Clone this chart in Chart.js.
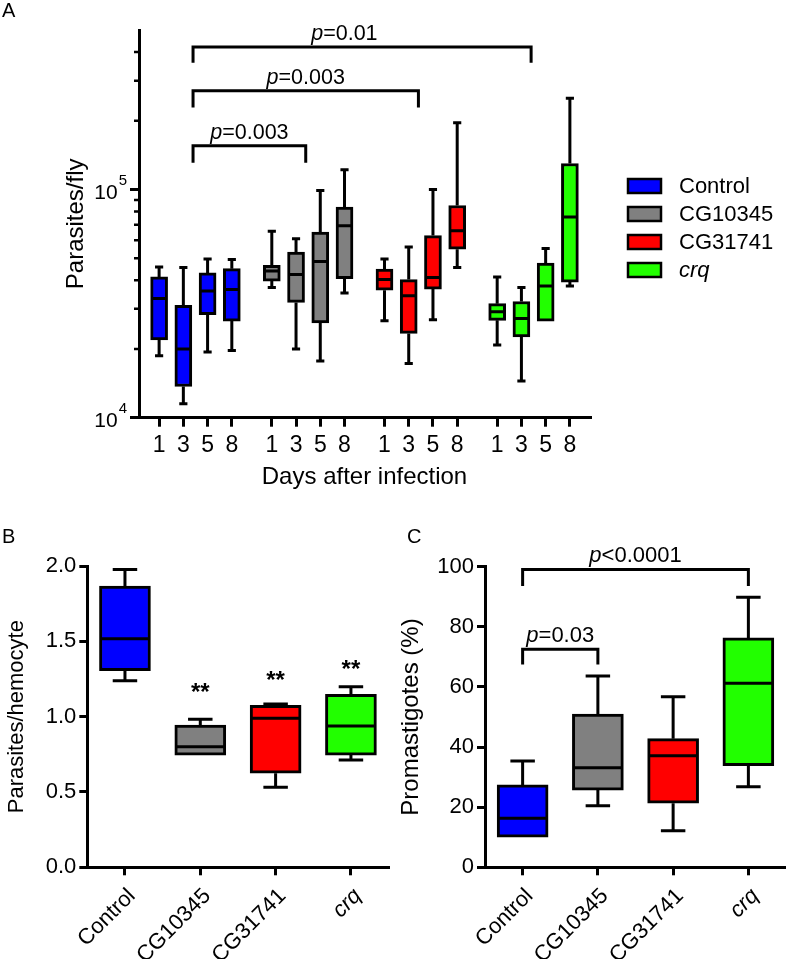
<!DOCTYPE html>
<html>
<head>
<meta charset="utf-8">
<script src="https://cdn.jsdelivr.net/npm/chart.js@4.4.0/dist/chart.umd.min.js"></script>
<style>
  html, body { margin: 0; padding: 0; background: #fff; }
  #wrap { position: relative; width: 786px; height: 959px; overflow: hidden; }
  canvas { position: absolute; }
</style>
</head>
<body>
<div id="wrap">
  <canvas id="chartA" width="786" height="500" style="left:0;top:0;width:786px;height:500px"></canvas>
  <canvas id="chartB" width="393" height="459" style="left:0;top:500px;width:393px;height:459px"></canvas>
  <canvas id="chartC" width="393" height="459" style="left:393px;top:500px;width:393px;height:459px"></canvas>
</div>
<script>
const FONT = "'Liberation Sans', Arial, Helvetica, sans-serif";
Chart.defaults.font.family = FONT;
Chart.defaults.color = "#000";

// --- data ---
const groups = ["Control", "CG10345", "CG31741", "crq"];
const italicGroups = ["crq"];
const days = [1, 3, 5, 8];
const groupColors = ["#0000ff", "#808080", "#ff0000", "#22ff00"];

// A: parasites per fly, each box is [min, q1, median, q3, max], days 1, 3, 5, 8
const flyControl = [[18700, 21900, 33300, 41400, 45700], [11500, 13700, 20000, 31100, 45500], [19400, 28300, 35900, 43100, 49600], [19700, 26500, 36500, 45000, 49300]];
const flyCG10345 = [[37200, 39700, 43900, 46500, 65700], [20000, 32000, 42400, 53200, 60900], [17700, 26000, 48400, 65100, 99000], [35200, 40700, 69400, 83700, 122000]];
const flyCG31741 = [[26600, 36200, 40300, 44800, 49600], [17300, 23400, 34200, 40300, 56000], [26900, 36600, 41100, 62800, 100000], [45500, 54700, 65900, 85100, 196000]];
const flyCrq = [[20800, 26700, 29100, 31600, 41400], [14500, 22600, 27200, 32300, 37200], [26300, 26500, 37800, 47600, 55200], [37800, 39300, 75700, 130000, 251000]];
const flySeries = [flyControl, flyCG10345, flyCG31741, flyCrq];
const flyTicks = [1e4, 1e5];
const flyMinorTicks = [2e4, 3e4, 4e4, 5e4, 6e4, 7e4, 8e4, 9e4, 2e5, 3e5, 4e5];
// brackets between [group, day index] pairs
const flyBrackets = [
  { from: [0, 1], to: [1, 1], top: 155600, foot: 130900, text: "=0.003", shift: 0 },
  { from: [0, 1], to: [2, 1], top: 271000, foot: 229000, text: "=0.003", shift: 0 },
  { from: [0, 1], to: [3, 1], top: 421700, foot: 359000, text: "=0.01", shift: -0.73 }
];

// B: parasites per hemocyte
const hemocyte = [[1.238, 1.305, 1.517, 1.867, 1.977], [0.745, 0.745, 0.800, 0.944, 0.982], [0.531, 0.624, 0.989, 1.075, 1.084], [0.712, 0.745, 0.938, 1.148, 1.198]];
const hemocyteStars = ["", "**", "**", "**"];
const hemocyteStarLevel = [null, 1.11, 1.19, 1.26];

// C: promastigotes (%)
const promastigotes = [[10.0, 10.0, 16.3, 27.4, 35.4], [20.5, 25.7, 33.1, 51.0, 63.6], [12.2, 21.3, 37.1, 42.8, 56.7], [26.8, 33.8, 61.2, 76.3, 89.8]];
const promaBrackets = [
  { from: 0, to: 1, top: 72.5, foot: 67.5, text: "=0.03" },
  { from: 0, to: 3, top: 99.1, foot: 93.6, text: "<0.0001" }
];

const GROUP_STEP = 4.65;   // spacing of day groups on the A x axis
const BRACKET_SHIFT = 0.4;
const dayX = (g, d) => g * GROUP_STEP + d;

// --- plugins ---
const boxPlot = {
  id: "boxPlot",
  afterDatasetsDraw(chart) {
    const ctx = chart.ctx;
    const y = chart.scales.y;
    chart.data.datasets.forEach((ds, di) => {
      const meta = chart.getDatasetMeta(di);
      meta.data.forEach((bar, i) => {
        const s = ds.stats[i];
        const half = bar.width / 2;
        const cap = bar.width * 0.24;
        const pMin = y.getPixelForValue(s[0]), pQ1 = y.getPixelForValue(s[1]);
        const pMed = y.getPixelForValue(s[2]), pQ3 = y.getPixelForValue(s[3]);
        const pMax = y.getPixelForValue(s[4]);
        ctx.save();
        ctx.strokeStyle = "#000";
        ctx.lineWidth = 3;
        ctx.beginPath();
        if (pMax < pQ3 - 1) {
          ctx.moveTo(bar.x, pQ3); ctx.lineTo(bar.x, pMax);
          ctx.moveTo(bar.x - cap, pMax); ctx.lineTo(bar.x + cap, pMax);
        }
        if (pMin > pQ1 + 1) {
          ctx.moveTo(bar.x, pQ1); ctx.lineTo(bar.x, pMin);
          ctx.moveTo(bar.x - cap, pMin); ctx.lineTo(bar.x + cap, pMin);
        }
        ctx.moveTo(bar.x - half + 1, pMed); ctx.lineTo(bar.x + half - 1, pMed);
        ctx.stroke();
        ctx.restore();
      });
    });
  }
};

function drawBracket(ctx, x1, x2, yTop, yFoot, text, size, labelX) {
  ctx.save();
  ctx.strokeStyle = "#000";
  ctx.lineWidth = 3;
  ctx.beginPath();
  ctx.moveTo(x1, yFoot); ctx.lineTo(x1, yTop); ctx.lineTo(x2, yTop); ctx.lineTo(x2, yFoot);
  ctx.stroke();
  ctx.fillStyle = "#000";
  ctx.textBaseline = "alphabetic";
  ctx.font = "italic " + size + "px " + FONT;
  const wp = ctx.measureText("p").width;
  ctx.font = size + "px " + FONT;
  const wr = ctx.measureText(text).width;
  const cx = labelX !== undefined ? labelX : (x1 + x2) / 2;
  const start = cx - (wp + wr) / 2;
  const base = yTop - 7;
  ctx.font = "italic " + size + "px " + FONT;
  ctx.fillText("p", start, base);
  ctx.font = size + "px " + FONT;
  ctx.fillText(text, start + wp, base);
  ctx.restore();
}

const panelLetter = {
  id: "panelLetter",
  afterDraw(chart, args, opts) {
    const ctx = chart.ctx;
    ctx.save();
    ctx.fillStyle = "#000";
    ctx.font = "20px " + FONT;
    ctx.textBaseline = "alphabetic";
    ctx.fillText(opts.text, opts.x, opts.y);
    ctx.restore();
  }
};

const flyExtras = {
  id: "flyExtras",
  afterDraw(chart) {
    const ctx = chart.ctx;
    const x = chart.scales.x, y = chart.scales.y;
    const axisX = chart.chartArea.left;
    ctx.save();
    // minor ticks on the log axis
    ctx.strokeStyle = "#000";
    ctx.lineWidth = 2.5;
    ctx.beginPath();
    flyMinorTicks.forEach(v => {
      const py = y.getPixelForValue(v);
      ctx.moveTo(axisX - 5, py); ctx.lineTo(axisX, py);
    });
    ctx.stroke();
    // 10^n labels
    ctx.fillStyle = "#000";
    ctx.textBaseline = "alphabetic";
    flyTicks.forEach(v => {
      const py = y.getPixelForValue(v);
      const exp = String(Math.round(Math.log10(v)));
      ctx.font = "15px " + FONT;
      const we = ctx.measureText(exp).width;
      const right = axisX - 12;
      ctx.fillText(exp, right - we, py - 5);
      ctx.font = "21px " + FONT;
      const wb = ctx.measureText("10").width;
      ctx.fillText("10", right - we - wb - 1, py + 9);
    });
    // brackets
    flyBrackets.forEach(b => {
      const x1 = x.getPixelForValue(dayX(b.from[0], b.from[1]) + BRACKET_SHIFT);
      const x2 = x.getPixelForValue(dayX(b.to[0], b.to[1]) + BRACKET_SHIFT);
      const mid = x.getPixelForValue((dayX(b.from[0], b.from[1]) + dayX(b.to[0], b.to[1])) / 2 + BRACKET_SHIFT + b.shift);
      drawBracket(ctx, x1, x2, y.getPixelForValue(b.top), y.getPixelForValue(b.foot), b.text, 21.5, mid);
    });
    // legend
    groups.forEach((g, i) => {
      const cy = 186 + i * 28;
      ctx.fillStyle = groupColors[i];
      ctx.fillRect(628, cy - 7, 33, 14);
      ctx.strokeStyle = "#000";
      ctx.lineWidth = 2.5;
      ctx.strokeRect(628, cy - 7, 33, 14);
      ctx.fillStyle = "#000";
      ctx.textBaseline = "middle";
      ctx.font = (italicGroups.includes(g) ? "italic " : "") + "22px " + FONT;
      ctx.fillText(g, 679, cy + 1);
    });
    ctx.restore();
  }
};

const hemocyteStarsPlugin = {
  id: "hemocyteStarsPlugin",
  afterDraw(chart) {
    const ctx = chart.ctx;
    const x = chart.scales.x, y = chart.scales.y;
    ctx.save();
    ctx.fillStyle = "#000";
    ctx.font = "bold 24px " + FONT;
    ctx.textAlign = "center";
    ctx.textBaseline = "alphabetic";
    hemocyteStars.forEach((s, i) => {
      if (!s) return;
      ctx.fillText(s, x.getPixelForValue(i), y.getPixelForValue(hemocyteStarLevel[i]));
    });
    ctx.restore();
  }
};

const promaBracketsPlugin = {
  id: "promaBracketsPlugin",
  afterDraw(chart) {
    const ctx = chart.ctx;
    const x = chart.scales.x, y = chart.scales.y;
    promaBrackets.forEach(b => {
      drawBracket(ctx, x.getPixelForValue(b.from), x.getPixelForValue(b.to),
        y.getPixelForValue(b.top), y.getPixelForValue(b.foot), b.text, 22);
    });
  }
};

// --- shared axis styling ---
const axisBorder = { color: "#000", width: 3 };
const tickGrid = { drawOnChartArea: false, offset: false, color: "#000", lineWidth: 3, tickLength: 8 };

// --- panel A ---
new Chart(document.getElementById("chartA"), {
  type: "bar",
  data: {
    datasets: flySeries.map((series, g) => ({
      label: groups[g],
      data: series.map((s, d) => ({ x: dayX(g, d), y: [s[1], s[3]] })),
      stats: series,
      backgroundColor: groupColors[g],
      borderColor: "#000",
      borderWidth: 3,
      borderSkipped: false,
      barThickness: 17,
      grouped: false
    }))
  },
  options: {
    responsive: false,
    animation: false,
    layout: { padding: { left: 0, top: 30, right: 196, bottom: 0 } },
    plugins: {
      legend: { display: false },
      tooltip: { enabled: false },
      panelLetter: { text: "A", x: 2, y: 17 }
    },
    scales: {
      x: {
        type: "linear",
        offset: false,
        min: -0.83,
        max: 17.78,
        afterBuildTicks: s => {
          s.ticks = flySeries.flatMap((_, g) => days.map((d, i) => ({ value: dayX(g, i) })));
        },
        afterFit: s => { s.height = 82.3; s.paddingLeft = 0; s.paddingRight = 0; },
        border: axisBorder,
        grid: Object.assign({}, tickGrid, { tickLength: 9 }),
        ticks: {
          autoSkip: false, maxRotation: 0, padding: 5,
          font: { size: 23 },
          callback: (v, i) => days[i % days.length]
        },
        title: { display: true, text: "Days after infection", font: { size: 24 }, padding: { bottom: 8 } }
      },
      y: {
        type: "logarithmic",
        min: 1e4,
        max: 5e5,
        afterBuildTicks: s => { s.ticks = flyTicks.map(v => ({ value: v, major: true })); },
        afterFit: s => { s.width = 139; },
        border: axisBorder,
        grid: Object.assign({}, tickGrid, { tickLength: 9 }),
        ticks: { display: false },
        title: { display: true, text: "Parasites/fly", font: { size: 24 }, padding: { top: 62.3 } }
      }
    }
  },
  plugins: [boxPlot, flyExtras, panelLetter]
});

// --- panels B and C ---
function groupBoxChart(id, stats, yOpts, titleText, titleSize, titlePad, leftWidth, top, letter, extra) {
  return new Chart(document.getElementById(id), {
    type: "bar",
    data: {
      labels: groups,
      datasets: [{
        data: stats.map(s => [s[1], s[3]]),
        stats: stats,
        backgroundColor: groupColors,
        borderColor: "#000",
        borderWidth: 3,
        borderSkipped: false,
        barThickness: 51
      }]
    },
    options: {
      responsive: false,
      animation: false,
      layout: { padding: { left: 0, top: top, right: id === "chartB" ? 4.4 : 0, bottom: 0 } },
      plugins: {
        legend: { display: false },
        tooltip: { enabled: false },
        panelLetter: letter
      },
      scales: {
        x: {
          type: "category",
          offset: true,
          afterFit: s => { s.height = 91.7; s.paddingLeft = 0; s.paddingRight = 0; },
          border: axisBorder,
          grid: tickGrid,
          ticks: {
            autoSkip: false, minRotation: 45, maxRotation: 45, padding: 8, labelOffset: 7,
            font: ctx => ({ size: 22, style: italicGroups.includes(groups[ctx.index]) ? "italic" : "normal" })
          }
        },
        y: Object.assign({
          afterFit: s => { s.width = leftWidth; },
          border: axisBorder,
          grid: tickGrid,
          title: { display: true, text: titleText, font: { size: titleSize }, padding: { top: titlePad } }
        }, yOpts)
      }
    },
    plugins: [boxPlot, panelLetter, extra]
  });
}

groupBoxChart("chartB", hemocyte,
  { min: 0, max: 2, ticks: { stepSize: 0.5, padding: 3, font: { size: 22 }, callback: v => v.toFixed(1) } },
  "Parasites/hemocyte", 22, 3.5, 87.3, 66, { text: "B", x: 2, y: 43 }, hemocyteStarsPlugin);

groupBoxChart("chartC", promastigotes,
  { min: 0, max: 100, ticks: { stepSize: 20, padding: 3, font: { size: 22 } } },
  "Promastigotes (%)", 24, 4.3, 92, 66.7, { text: "C", x: 14, y: 43 }, promaBracketsPlugin);
</script>
</body>
</html>
